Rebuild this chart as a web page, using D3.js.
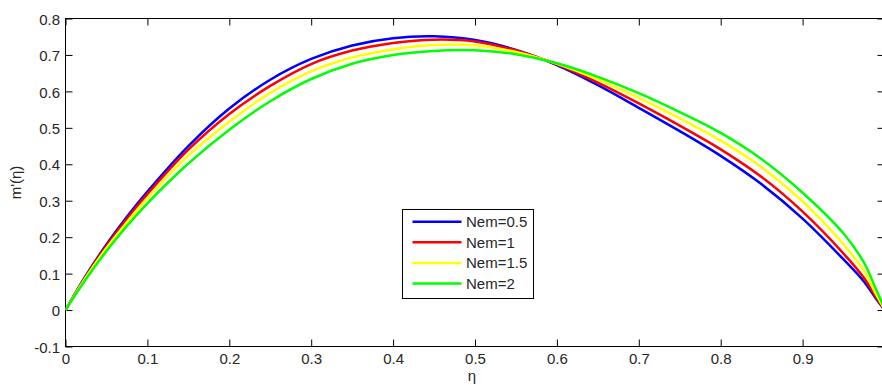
<!DOCTYPE html>
<html>
<head>
<meta charset="utf-8">
<script src="https://cdn.jsdelivr.net/npm/d3@7/dist/d3.min.js"></script>
<style>
  html, body { margin: 0; padding: 0; background: #fff; }
  svg { display: block; }
  text { font-family: "Liberation Sans", Arial, sans-serif; fill: #262626; }
</style>
</head>
<body>
<svg id="chart" width="882" height="385"></svg>
<script>
// ---- data ----
const eta = [0, 0.025, 0.05, 0.075, 0.1, 0.15, 0.2, 0.25, 0.3, 0.35, 0.4, 0.45, 0.5, 0.55, 0.6, 0.65, 0.7, 0.75, 0.8, 0.85, 0.9, 0.95, 0.975, 0.99, 1.0];
const nem05 = [0, 0.095, 0.180, 0.256, 0.325, 0.450, 0.553, 0.632, 0.689, 0.726, 0.746, 0.751, 0.741, 0.714, 0.672, 0.617, 0.555, 0.491, 0.423, 0.345, 0.251, 0.139, 0.078, 0.030, 0.000];
const nem1  = [0, 0.093, 0.176, 0.250, 0.318, 0.440, 0.538, 0.615, 0.675, 0.712, 0.733, 0.742, 0.737, 0.712, 0.674, 0.624, 0.567, 0.506, 0.441, 0.365, 0.270, 0.155, 0.088, 0.035, 0.001];
const nem15 = [0, 0.090, 0.170, 0.241, 0.307, 0.424, 0.517, 0.596, 0.655, 0.693, 0.715, 0.727, 0.726, 0.708, 0.676, 0.633, 0.582, 0.526, 0.465, 0.392, 0.298, 0.180, 0.107, 0.042, 0.002];
const nem2  = [0, 0.085, 0.162, 0.231, 0.293, 0.402, 0.495, 0.573, 0.634, 0.676, 0.700, 0.711, 0.713, 0.702, 0.677, 0.640, 0.595, 0.543, 0.486, 0.414, 0.322, 0.210, 0.130, 0.055, 0.005];
const seriesNames = ["Nem=0.5", "Nem=1", "Nem=1.5", "Nem=2"];
const seriesColors = ["#0000ff", "#ff0000", "#ffff00", "#00ff00"];
const xTicks = [0, 0.1, 0.2, 0.3, 0.4, 0.5, 0.6, 0.7, 0.8, 0.9];
const yTicks = [-0.1, 0, 0.1, 0.2, 0.3, 0.4, 0.5, 0.6, 0.7, 0.8];
const xLabel = "η";
const yLabel = "m'(η)";

const allSeries = [nem05, nem1, nem15, nem2];

(function () {
  // ---- layout ----
  const pLeft = 65.5, pRight = 884.5, pTop = 18.5, pBottom = 346.5;
  const svg = d3.select("#chart");

  const x = d3.scaleLinear().domain([0, 1]).range([pLeft, pRight]);
  const y = d3.scaleLinear().domain([-0.1, 0.8]).range([pBottom, pTop]);
  const fmt = d => (Math.abs(d) < 1e-9 ? "0" : String(+d.toFixed(1)));

  const tickLen = 7;
  const fontSize = 15;

  // axes box
  svg.append("rect")
    .attr("x", pLeft).attr("y", pTop)
    .attr("width", pRight - pLeft).attr("height", pBottom - pTop)
    .attr("fill", "none").attr("stroke", "#000").attr("stroke-width", 1);

  // bottom axis (ticks inward)
  const xAxis = d3.axisBottom(x).tickValues(xTicks).tickSize(-tickLen).tickPadding(0).tickFormat(fmt);
  const gx = svg.append("g").attr("transform", `translate(0,${pBottom})`).call(xAxis);
  gx.select(".domain").remove();
  gx.selectAll(".tick line").attr("stroke", "#000");
  gx.selectAll(".tick text").attr("y", 17.5).attr("dy", null)
    .style("font-size", fontSize + "px").attr("fill", "#262626");

  // top axis ticks (no labels)
  const xTop = d3.axisTop(x).tickValues(xTicks).tickSize(-tickLen).tickFormat("");
  const gxt = svg.append("g").attr("transform", `translate(0,${pTop})`).call(xTop);
  gxt.select(".domain").remove();
  gxt.selectAll(".tick line").attr("stroke", "#000");

  // left axis
  const yAxis = d3.axisLeft(y).tickValues(yTicks).tickSize(-tickLen).tickPadding(0).tickFormat(fmt);
  const gy = svg.append("g").attr("transform", `translate(${pLeft},0)`).call(yAxis);
  gy.select(".domain").remove();
  gy.selectAll(".tick line").attr("stroke", "#000");
  gy.selectAll(".tick text").attr("x", -5.5).attr("dy", "0.38em")
    .style("font-size", fontSize + "px").attr("fill", "#262626");

  // right axis ticks
  const yRight = d3.axisRight(y).tickValues(yTicks).tickSize(-tickLen).tickFormat("");
  const gyr = svg.append("g").attr("transform", `translate(${pRight},0)`).call(yRight);
  gyr.select(".domain").remove();
  gyr.selectAll(".tick line").attr("stroke", "#000");

  // axis labels
  svg.append("text")
    .attr("x", (pLeft + pRight) / 2 - 3).attr("y", 381)
    .attr("text-anchor", "middle").style("font-size", fontSize + "px")
    .text(xLabel);
  svg.append("text")
    .attr("transform", `translate(21,${(pTop + pBottom) / 2}) rotate(-90)`)
    .attr("text-anchor", "middle").style("font-size", fontSize + "px")
    .text(yLabel);

  // clip to plot area
  svg.append("clipPath").attr("id", "plotclip")
    .append("rect").attr("x", pLeft).attr("y", pTop)
    .attr("width", pRight - pLeft).attr("height", pBottom - pTop);

  const line = d3.line()
    .x((d, i) => x(eta[i]))
    .y(d => y(d))
    .curve(d3.curveCatmullRom.alpha(0.5));

  const lg = svg.append("g").attr("clip-path", "url(#plotclip)");
  allSeries.forEach((s, k) => {
    lg.append("path")
      .datum(s)
      .attr("d", line)
      .attr("fill", "none")
      .attr("stroke", seriesColors[k])
      .attr("stroke-width", 2.5)
      .attr("stroke-linejoin", "round");
  });

  // legend
  const legX = 402.5, legY = 209.5, legW = 131, legH = 89;
  const leg = svg.append("g");
  leg.append("rect")
    .attr("x", legX).attr("y", legY).attr("width", legW).attr("height", legH)
    .attr("fill", "#fff").attr("stroke", "#000").attr("stroke-width", 1);
  seriesNames.forEach((name, k) => {
    const cy = 221.7 + k * 20.6;
    leg.append("line")
      .attr("x1", 412.5).attr("x2", 461.5)
      .attr("y1", cy).attr("y2", cy)
      .attr("stroke", seriesColors[k]).attr("stroke-width", 2.5);
    leg.append("text")
      .attr("x", 466).attr("y", cy).attr("dy", "0.36em")
      .style("font-size", fontSize + "px")
      .text(name);
  });
})();
</script>
</body>
</html>
